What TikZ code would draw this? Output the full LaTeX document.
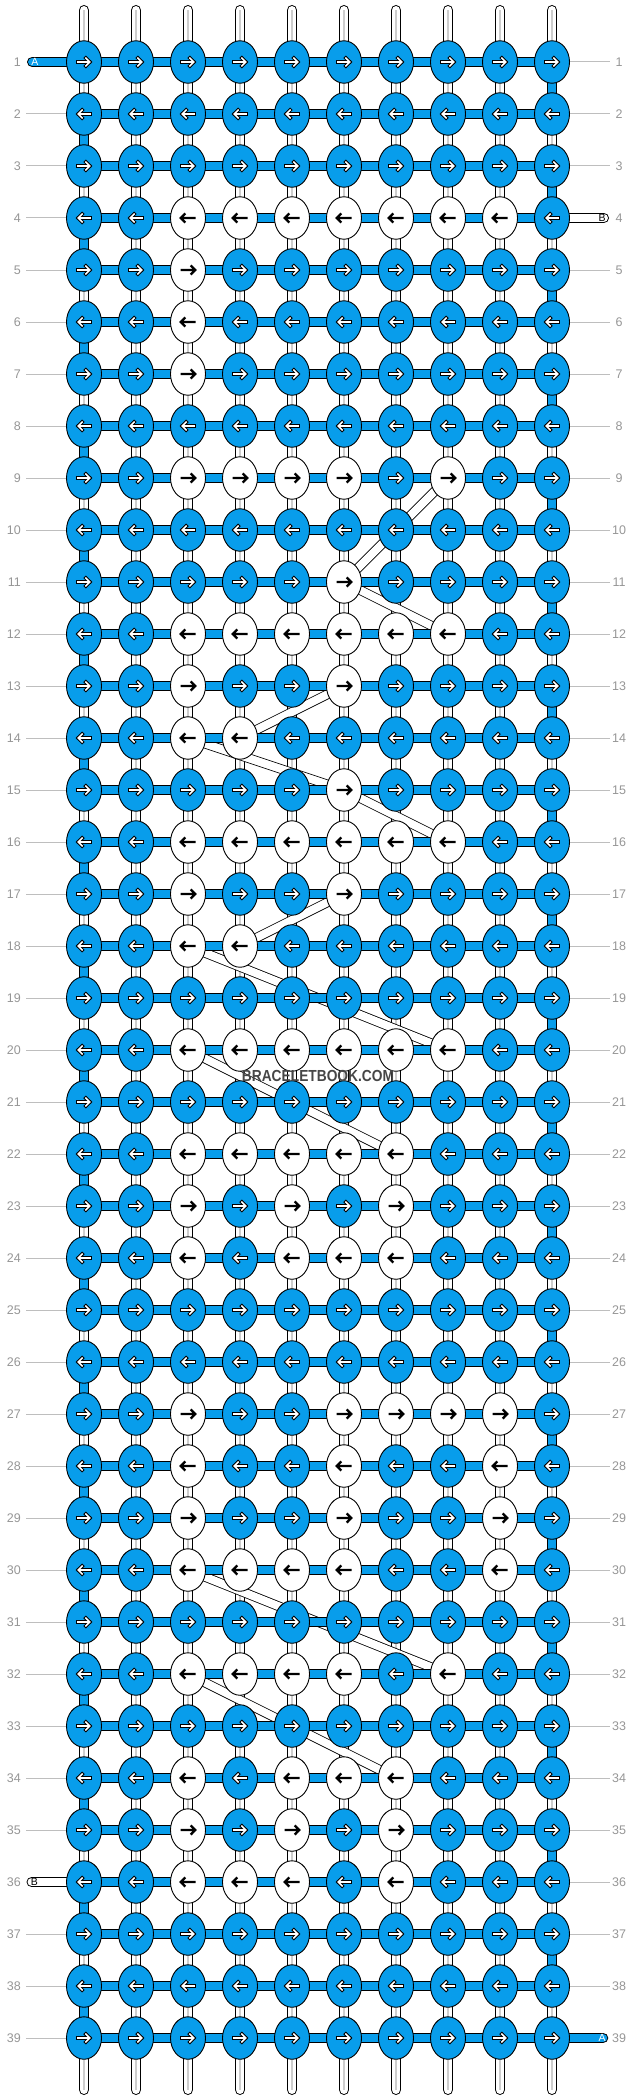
\documentclass[tikz,border=0pt]{standalone}
\usepackage{fontspec}
\setmainfont{Liberation Sans}
\usetikzlibrary{shapes.geometric}
\definecolor{threadA}{RGB}{8,157,235}
\definecolor{rulegray}{RGB}{190,190,190}
\definecolor{numgray}{RGB}{150,150,150}
\definecolor{coregray}{RGB}{205,205,205}
\definecolor{markgray}{RGB}{70,70,70}

\begin{document}
\begin{tikzpicture}[x=1pt, y=-1pt,
		knot/.style={ellipse, draw=black, line width=0.9pt, minimum width=35pt, minimum height=42.5pt, inner sep=0pt},
		knotA/.style={knot, fill=threadA},
		knotB/.style={knot, fill=white},
		strandA/.style={draw=black, double=threadA, double distance=8.5pt, line width=1pt},
		strandB/.style={draw=black, double=white, double distance=8.5pt, line width=1pt},
		carried/.style={draw=black, double=white, double distance=8pt, line width=0.8pt},
		core/.style={draw=coregray, line width=1.8pt},
		tipA/.style={draw=black, double=white, double distance=1.6pt, line width=1pt, line cap=rect},
		tipB/.style={draw=black, line width=2.4pt},
		rownum/.style={inner sep=0pt, text=numgray, font=\fontsize{12.5}{14}\selectfont},
		rowrule/.style={draw=rulegray, line width=1pt},
		endlabel/.style={inner sep=0pt, font=\fontsize{10.5}{12}\selectfont}]
		\useasboundingbox (0,0) rectangle (636,2100);

		\def\knots{0,0,0,0,0,0,0,0,0,0,
			0,0,0,0,0,0,0,0,0,0,
			0,0,0,0,0,0,0,0,0,0,
			0,0,1,1,1,1,1,1,1,0,
			0,0,1,0,0,0,0,0,0,0,
			0,0,1,0,0,0,0,0,0,0,
			0,0,1,0,0,0,0,0,0,0,
			0,0,0,0,0,0,0,0,0,0,
			0,0,1,1,1,1,0,1,0,0,
			0,0,0,0,0,0,0,0,0,0,
			0,0,0,0,0,1,0,0,0,0,
			0,0,1,1,1,1,1,1,0,0,
			0,0,1,0,0,1,0,0,0,0,
			0,0,1,1,0,0,0,0,0,0,
			0,0,0,0,0,1,0,0,0,0,
			0,0,1,1,1,1,1,1,0,0,
			0,0,1,0,0,1,0,0,0,0,
			0,0,1,1,0,0,0,0,0,0,
			0,0,0,0,0,0,0,0,0,0,
			0,0,1,1,1,1,1,1,0,0,
			0,0,0,0,0,0,0,0,0,0,
			0,0,1,1,1,1,1,0,0,0,
			0,0,1,0,1,0,1,0,0,0,
			0,0,1,0,1,1,1,0,0,0,
			0,0,0,0,0,0,0,0,0,0,
			0,0,0,0,0,0,0,0,0,0,
			0,0,1,0,0,1,1,1,1,0,
			0,0,1,0,0,1,0,0,1,0,
			0,0,1,0,0,1,0,0,1,0,
			0,0,1,1,1,1,0,0,1,0,
			0,0,0,0,0,0,0,0,0,0,
			0,0,1,1,1,1,0,1,0,0,
			0,0,0,0,0,0,0,0,0,0,
			0,0,1,0,1,1,1,0,0,0,
			0,0,1,0,1,0,1,0,0,0,
			0,0,1,1,1,0,1,0,0,0,
			0,0,0,0,0,0,0,0,0,0,
			0,0,0,0,0,0,0,0,0,0,
			0,0,0,0,0,0,0,0,0,0}

		\foreach \r in {1,...,39}
			\foreach \c in {1,...,10}
				\coordinate (p-\r-\c) at ({32+52*\c},{10+52*\r});

		\foreach \c in {1,...,10} {
			\coordinate (top-\c) at ({32+52*\c},10.25);
			\coordinate (bot-\c) at ({32+52*\c},2089.75);
			\draw[strandB, line cap=round] (top-\c) -- (bot-\c);
			\draw[core] (top-\c) -- (bot-\c);
		}

		\foreach \r in {1,3,...,37} {
			\pgfmathtruncatemacro\s{\r+1}
			\draw[strandA] (p-\r-10) -- (p-\s-10);
		}
		\foreach \r in {2,4,...,38} {
			\pgfmathtruncatemacro\s{\r+1}
			\draw[strandA] (p-\r-1) -- (p-\s-1);
		}

		\foreach \ra/\ca/\rb/\cb in {9/8/11/6, 11/6/12/8, 13/6/14/4, 14/3/15/6, 15/6/16/8,
			17/6/18/4, 18/3/20/8, 20/3/22/7, 30/3/32/8, 32/3/34/7}
			\draw[carried] (p-\ra-\ca) -- (p-\rb-\cb);

		\foreach \r in {1,...,39}
			\draw[strandA] (p-\r-1) -- (p-\r-10);

		\coordinate (inA) at (32.25,62);
		\coordinate (inB) at (603.75,218);
		\coordinate (outB) at (31.75,1882);
		\coordinate (outA) at (603,2038);
		\draw[strandA, line cap=round] (inA) -- (p-1-1);
		\draw[strandB, line cap=round] (p-4-10) -- (inB);
		\draw[strandB, line cap=round] (outB) -- (p-36-1);
		\draw[strandA, line cap=round] (p-39-10) -- (outA);

		\foreach \r in {1,...,39} {
			\node[rownum, anchor=east] (nl-\r) at (21,{10+52*\r}) {\r};
			\node[rownum] (nr-\r) at (619,{10+52*\r}) {\r};
			\ifnum\r=1 \else \ifnum\r=36 \else
				\draw[rowrule] (p-\r-1) -- ++(-58,0);
			\fi \fi
			\ifnum\r=4 \else \ifnum\r=39 \else
				\draw[rowrule] (p-\r-10) -- ++(57.5,0);
			\fi \fi
		}

		\foreach \b [count=\i from 0] in \knots {
			\pgfmathtruncatemacro\r{floor(\i/10)+1}
			\pgfmathtruncatemacro\c{mod(\i,10)+1}
			\ifodd\r \def\dir{1}\else \def\dir{-1}\fi
			\ifnum\b=1
				\node[knotB] (kn-\r-\c) at (p-\r-\c) {};
				\begin{scope}[shift={(p-\r-\c)}, xscale=\dir]
					\draw[tipB] (-7.5,0) -- (6.8,0) (2.7,-4.6) -- (7.2,0) -- (2.7,4.6);
				\end{scope}
			\else
				\node[knotA] (kn-\r-\c) at (p-\r-\c) {};
				\begin{scope}[shift={(p-\r-\c)}, xscale=\dir]
					\draw[tipA] (-6,0) -- (5.4,0) (1.9,-3.9) -- (5.8,0) -- (1.9,3.9);
				\end{scope}
			\fi
		}

		\node[endlabel, text=white] (labA-in) at (35,62) {A};
		\node[endlabel] (labB-in) at (602,218) {B};
		\node[endlabel] (labB-out) at (34.5,1882) {B};
		\node[endlabel, text=white] (labA-out) at (602,2038) {A};

		\node[inner sep=1pt, text=markgray, font=\bfseries\fontsize{16}{16}\selectfont] (mark) at (318,1076)
			{\scalebox{0.86}[1]{BRACELETBOOK.COM}};
	\end{tikzpicture}
\end{document}
